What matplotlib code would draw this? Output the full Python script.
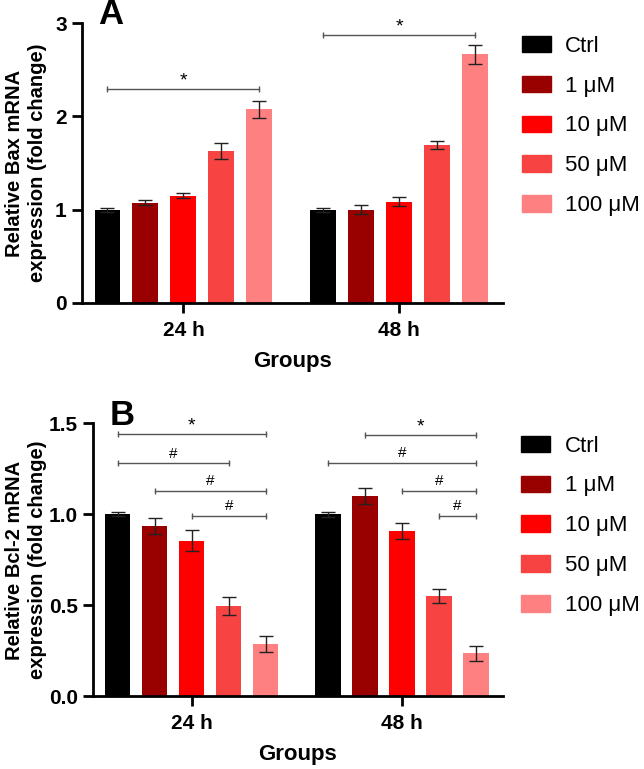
import matplotlib
matplotlib.use('Agg')

import matplotlib.pyplot as plt
import numpy as np
from matplotlib.patches import Patch

plt.rcParams['font.family'] = 'Liberation Sans'
plt.rcParams['axes.unicode_minus'] = False

# data
groups = ['24 h', '48 h']
doses = ['Ctrl', '1 μM', '10 μM', '50 μM', '100 μM']
colors = ['#000000', '#990000', '#ff0000', '#f84343', '#ff8080']

bax_mean = [[1.00, 1.075, 1.15, 1.625, 2.075],
            [1.00, 1.00, 1.085, 1.69, 2.665]]
bax_err = [[0.02, 0.03, 0.03, 0.085, 0.09],
           [0.02, 0.05, 0.05, 0.045, 0.10]]

bcl_mean = [[1.00, 0.935, 0.855, 0.495, 0.286],
            [1.00, 1.10, 0.909, 0.55, 0.235]]
bcl_err = [[0.01, 0.042, 0.06, 0.048, 0.046],
           [0.015, 0.045, 0.044, 0.037, 0.042]]

# significance brackets: (group, first dose, last dose, height, label)
bax_sig = [(0, 0, 4, 2.29, '*'), (1, 0, 4, 2.87, '*')]
bcl_sig = [(0, 0, 4, 1.44, '*'), (0, 0, 3, 1.28, '#'), (0, 1, 4, 1.128, '#'), (0, 2, 4, 0.99, '#'),
           (1, 1, 4, 1.436, '*'), (1, 0, 4, 1.283, '#'), (1, 2, 4, 1.128, '#'), (1, 3, 4, 0.99, '#')]

step = 0.176
width = 0.12


def draw_panel(ax, means, errs, sigs, ylim, yticks, yfmt):
    x = np.arange(len(groups))
    for k in range(len(doses)):
        pos = x + (k - 2) * step
        vals = [means[g][k] for g in range(len(groups))]
        er = [errs[g][k] for g in range(len(groups))]
        ax.bar(pos, vals, width, color=colors[k], zorder=2)
        ax.errorbar(pos, vals, yerr=er, fmt='none', ecolor='#222222',
                    elinewidth=1, capsize=5, capthick=1, zorder=3)

    for g, i, j, h, lab in sigs:
        x1 = g + (i - 2) * step
        x2 = g + (j - 2) * step
        ax.plot([x1, x2], [h, h], color='#555555', lw=1, zorder=4)
        ax.plot([x1, x2], [h, h], ls='none', marker='|', ms=5, mew=1, color='#555555', zorder=4)
        if lab == '*':
            ax.annotate(lab, xy=((x1 + x2) / 2, h), xytext=(0, 0), textcoords='offset points',
                        ha='center', va='bottom', fontsize=14)
        else:
            ax.annotate(lab, xy=((x1 + x2) / 2, h), xytext=(0, 2), textcoords='offset points',
                        ha='center', va='bottom', fontsize=11)

    ax.set_xlim(-0.47, 1.48)
    ax.set_ylim(*ylim)
    ax.set_yticks(yticks)
    ax.set_yticklabels([yfmt.format(t) for t in yticks], fontweight='bold', fontsize=15)
    ax.set_xticks(x)
    ax.set_xticklabels(groups, fontweight='bold', fontsize=15)
    ax.set_xlabel('Groups', fontweight='bold', fontsize=16, labelpad=8)
    for s in ['top', 'right']:
        ax.spines[s].set_visible(False)
    for s in ['left', 'bottom']:
        ax.spines[s].set_linewidth(2)
    ax.tick_params(axis='both', width=2, length=7, pad=4)
    ax.tick_params(axis='x', pad=6)

    handles = [Patch(color=c, label=d) for c, d in zip(colors, doses)]
    ax.legend(handles=handles, loc='upper left', bbox_to_anchor=(1.045, 0.955),
              frameon=False, fontsize=16, handlelength=1.3, handleheight=0.75,
              handletextpad=0.65, labelspacing=0.85, borderpad=0, borderaxespad=0)
    return ax


fig = plt.figure(figsize=(6.44, 7.69), dpi=100)

ax1 = fig.add_axes([0.1273, 0.606, 0.6537, 0.364])
draw_panel(ax1, bax_mean, bax_err, bax_sig, (0, 3), [0, 1, 2, 3], '{:.0f}')

ax2 = fig.add_axes([0.1444, 0.0949, 0.6366, 0.3546])
draw_panel(ax2, bcl_mean, bcl_err, bcl_sig, (0, 1.5), [0, 0.5, 1.0, 1.5], '{:.1f}')

fig.text(0.04, 1 - 163 / 769, 'Relative Bax mRNA\nexpression (fold change)', rotation=90,
         ha='center', va='center', fontsize=14.5, fontweight='bold', linespacing=1.3)
fig.text(0.04, 1 - 560 / 769, 'Relative Bcl-2 mRNA\nexpression (fold change)', rotation=90,
         ha='center', va='center', fontsize=14.5, fontweight='bold', linespacing=1.3)

fig.text(111 / 644, 1 - 15 / 769, 'A', ha='center', va='center', fontsize=25, fontweight='bold')
fig.text(122 / 644, 1 - 415 / 769, 'B', ha='center', va='center', fontsize=25, fontweight='bold')

fig.savefig('out.png', dpi=100)
